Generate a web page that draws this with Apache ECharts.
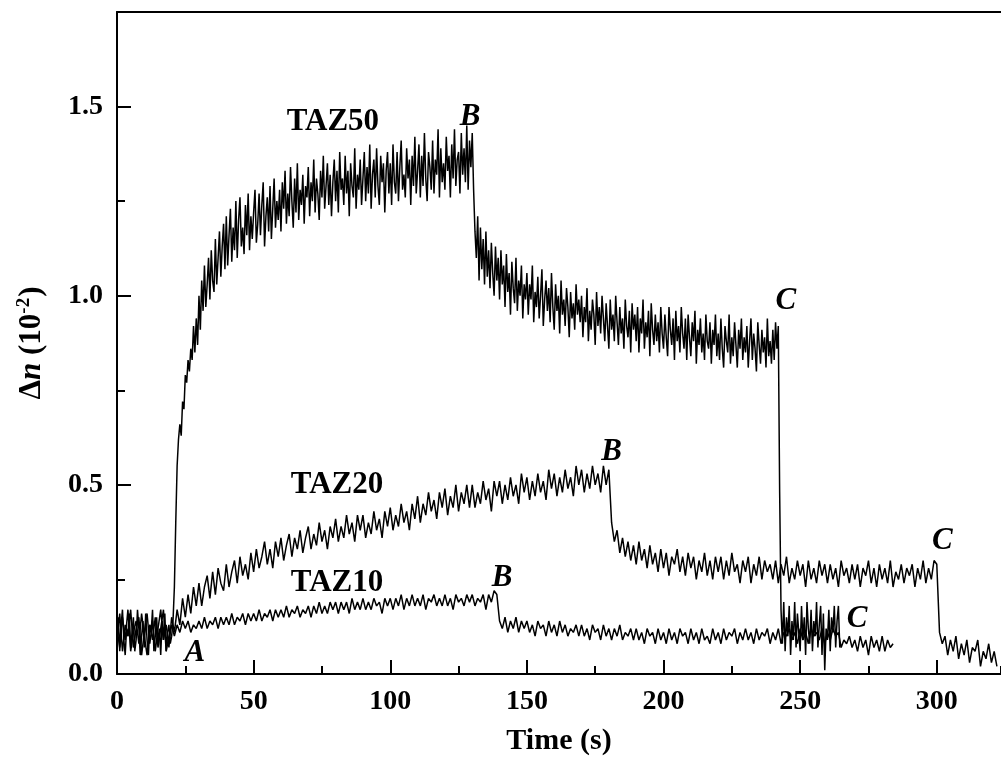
<!DOCTYPE html>
<html>
<head>
<meta charset="utf-8">
<script src="https://cdn.jsdelivr.net/npm/echarts@6/dist/echarts.min.js"></script>
<style>
  html, body { margin: 0; padding: 0; background: #fff; }
  #chart { width: 1001px; height: 765px; }
</style>
</head>
<body>
<div id="chart"></div>
<script>
// Values in units of 10^-4 (i.e. hundredths of the 10^-2 axis unit).
// Each row covers 10 s of time.
// TAZ50 sampled every 0.5 s, starting at t = 0
var taz50Rows = [
  [8,15,6,13,17,9,5,12,10,16,7,11,15,6,9,17,12,5,10,14],
  [7,16,9,5,13,11,17,6,10,15,8,12,5,14,9,16,6,11,13,8],
  [10,14,23,40,55,62,66,63,72,70,79,77,83,80,86,83,92,85,94,87],
  [100,91,104,96,108,97,103,110,99,112,104,101,115,103,110,117,105,113,119,107],
  [121,108,116,123,109,118,112,125,110,120,126,113,118,111,124,116,127,112,121,115],
  [122,128,114,119,127,116,124,130,113,121,126,117,129,115,123,131,118,125,120,128],
  [117,130,123,133,119,127,121,134,125,118,131,122,135,120,128,124,132,119,129,126],
  [134,121,130,125,136,122,131,127,120,133,126,137,123,129,135,124,132,121,130,136],
  [125,133,122,138,128,131,124,137,127,133,121,135,129,126,139,123,132,128,136,124],
  [131,138,125,134,127,140,123,132,136,126,139,129,124,137,130,135,122,133,138,127],
  [135,124,140,130,127,138,125,134,141,128,132,126,139,131,136,124,137,129,142,127],
  [133,140,126,137,129,143,131,125,138,134,128,141,127,136,132,144,126,139,130,135],
  [128,142,133,137,126,140,131,144,129,136,138,127,143,132,139,130,145,128,141,134],
  [143,128,117,110,121,104,118,107,115,103,117,105,112,102,114,106,100,113,104,110],
  [99,112,103,108,97,111,101,106,95,109,102,98,110,96,104,100,108,94,103,99],
  [106,95,103,99,108,93,101,97,105,94,100,107,92,99,104,96,102,93,106,97],
  [91,103,96,100,90,104,95,99,92,102,97,89,101,94,98,91,103,95,99,93],
  [100,89,97,93,102,88,96,91,99,95,87,101,92,97,90,100,94,88,98,92],
  [86,99,91,95,88,100,93,87,97,90,94,86,99,92,89,96,85,98,91,95],
  [88,97,85,94,90,99,86,93,89,96,84,98,91,87,95,88,93,85,97,90],
  [86,95,89,84,97,91,87,94,83,96,88,92,85,97,90,86,94,83,95,89],
  [84,93,88,96,82,91,87,94,85,90,83,95,88,86,93,82,91,87,95,84],
  [90,83,94,86,81,92,88,85,95,82,89,84,93,87,81,91,86,94,83,89],
  [85,92,81,88,94,83,90,86,80,93,87,82,91,85,89,81,94,84,88,82],
  [91,83,93,86,92,48,17,8,19,6,15,10,18,5,14,9,19,7,16,11],
  [6,18,9,15,5,19,12,8,17,6,14,10,19,7,13,18,5,16,1,12],
  [9,17,6,15,11,18,7,14,18,7]
];
// TAZ20 sampled every 1 s, starting at t = 0
var taz20Rows = [
  [9,16,6,13,10,17,7,12,15,5],
  [11,16,8,14,6,12,17,9,13,7],
  [15,11,17,13,20,15,21,16,23,18],
  [24,18,23,26,20,27,21,28,24,22],
  [29,23,27,30,24,31,26,29,25,32],
  [27,33,28,31,35,29,33,28,35,31],
  [36,30,34,37,31,36,33,38,32,36],
  [39,33,37,34,40,35,38,33,39,36],
  [41,35,39,36,42,37,40,35,42,38],
  [42,36,40,37,43,38,41,36,43,39],
  [44,38,42,39,45,40,43,38,45,41],
  [47,40,45,42,48,43,46,41,48,44],
  [49,42,47,44,50,43,48,45,50,44],
  [50,44,48,45,51,46,49,43,51,47],
  [51,45,50,46,52,47,50,45,53,48],
  [52,46,51,47,53,48,51,46,54,49],
  [53,47,52,48,54,49,52,47,55,50],
  [54,48,53,49,55,50,53,48,55,50],
  [54,40,35,38,32,36,31,35,30,34],
  [29,35,30,33,28,34,29,32,27,33],
  [28,32,26,31,29,33,27,31,26,32],
  [28,31,25,30,27,32,26,30,25,31],
  [27,31,25,30,26,32,27,29,24,30],
  [27,31,24,29,26,31,25,30,27,29],
  [25,30,24,29,26,31,24,28,25,30],
  [26,29,23,30,25,28,24,30,26,29],
  [24,29,25,28,23,30,26,28,24,29],
  [25,29,23,28,26,30,24,28,23,29],
  [25,28,24,30,23,27,25,29,24,28],
  [26,29,23,28,25,30,24,28,25,30],
  [29,11,8,10,5,9,6,10,4,8],
  [5,9,3,7,6,9,2,6,4,8],
  [3,6,2]
];
// TAZ10 sampled every 1 s, starting at t = 0
var taz10Rows = [
  [12,7,15,9,17,6,11,14,8,16],
  [10,5,13,9,15,7,12,17,6,10],
  [13,10,13,11,14,12,14,11,13,12],
  [14,12,15,12,14,13,15,12,15,13],
  [15,13,16,13,15,14,16,13,16,14],
  [16,14,17,14,16,15,17,14,17,15],
  [17,15,18,15,17,16,18,15,17,16],
  [18,15,18,16,19,16,18,16,19,17],
  [19,16,19,17,19,16,20,17,19,17],
  [20,17,19,17,20,18,19,16,20,18],
  [20,17,20,18,21,17,20,18,21,18],
  [20,18,21,17,20,19,21,18,20,18],
  [21,18,20,17,21,19,20,18,21,19],
  [21,18,20,19,21,17,21,19,22,21],
  [14,12,15,11,14,12,15,11,14,12],
  [14,11,13,10,14,12,13,10,14,11],
  [13,10,14,11,13,10,12,11,13,10],
  [13,10,12,9,13,11,12,9,13,10],
  [12,9,12,10,13,9,11,10,12,9],
  [12,9,11,8,12,10,11,8,12,9],
  [11,8,12,9,11,8,12,10,11,8],
  [12,9,11,8,12,9,10,8,12,9],
  [11,8,12,9,11,10,12,8,11,9],
  [12,9,11,8,12,9,11,10,12,8],
  [11,9,12,8,11,10,12,9,11,8],
  [12,9,11,8,12,10,11,9,12,8],
  [11,9,12,10,11,7,9,8,10,7],
  [9,6,10,7,9,5,10,7,9,6],
  [10,6,9,7,8]
];
var xTicks = [0, 50, 100, 150, 200, 250, 300];
var yTickLabels = ['0.0', '0.5', '1.0', '1.5'];

// Annotation texts and their anchor positions (data coordinates)
var annoText = ['TAZ50', 'B', 'C', 'TAZ20', 'B', 'C', 'TAZ10', 'B', 'C', 'A'];
var annoX    = [79.0, 129.2, 244.8, 80.5, 181.0, 302.0, 80.5, 140.9, 270.8, 28.5];
var annoY    = [146, 147.3, 98.7, 50, 58.7, 35.2, 24, 25.4, 14.5, 5.5];

function rowsToPoints(rows, step) {
  var pts = [];
  for (var r = 0; r < rows.length; r++) {
    for (var j = 0; j < rows[r].length; j++) {
      pts.push([r * 10 + j * step, rows[r][j]]);
    }
  }
  return pts;
}

var FONT = 'Liberation Serif';
var chart = echarts.init(document.getElementById('chart'), null, { renderer: 'canvas' });

var annoData = annoText.map(function (t, i) {
  var isTag = t.length > 1;
  return {
    name: t,
    value: [annoX[i], annoY[i]],
    label: {
      fontStyle: isTag ? 'normal' : 'italic',
      fontSize: isTag ? 31 : 31
    }
  };
});

var lineStyle = { color: '#000', width: 1.5 };

var option = {
  animation: false,
  backgroundColor: '#fff',
  grid: [
    { left: 117, right: 0, top: 12, bottom: 91 },
    { left: 117, right: 0, top: 12, bottom: 91 }
  ],
  xAxis: [
    {
      gridIndex: 0, type: 'value', min: 0, max: 323.5, interval: 50,
      position: 'bottom',
      name: 'Time (s)', nameLocation: 'middle', nameGap: 52,
      nameTextStyle: { fontFamily: FONT, fontWeight: 'bold', fontSize: 30, color: '#000' },
      axisLine: { show: true, lineStyle: { color: '#000', width: 2 } },
      axisTick: { show: true, inside: true, length: 14, lineStyle: { color: '#000', width: 2 } },
      axisLabel: {
        show: true, margin: 14, color: '#000', fontFamily: FONT, fontWeight: 'bold', fontSize: 28,
        showMaxLabel: false,
        formatter: function (v) { return xTicks.indexOf(v) >= 0 ? String(v) : ''; }
      },
      splitLine: { show: false }
    },
    {
      gridIndex: 0, type: 'value', min: 0, max: 323.5, position: 'top',
      axisLine: { show: true, onZero: false, lineStyle: { color: '#000', width: 2 } },
      axisTick: { show: false }, axisLabel: { show: false }, splitLine: { show: false }
    },
    {
      gridIndex: 1, type: 'value', min: 0, max: 323.5, interval: 25, position: 'bottom',
      axisLine: { show: false },
      axisTick: { show: true, inside: true, length: 8, lineStyle: { color: '#000', width: 2 } },
      axisLabel: { show: false }, splitLine: { show: false }
    }
  ],
  yAxis: [
    {
      gridIndex: 0, type: 'value', min: 0, max: 175, interval: 50,
      name: '{d|Δ}{n|n}{d| (10}{s|-2}{d|)}',
      nameLocation: 'middle', nameGap: 68, nameRotate: 90,
      nameTextStyle: {
        color: '#000',
        rich: {
          d: { fontFamily: FONT, fontWeight: 'bold', fontSize: 31, lineHeight: 34, color: '#000' },
          n: { fontFamily: FONT, fontWeight: 'bold', fontStyle: 'italic', fontSize: 31, lineHeight: 34, color: '#000' },
          s: { fontFamily: FONT, fontWeight: 'bold', fontSize: 19, lineHeight: 34, verticalAlign: 'top', color: '#000', padding: [0, 1, 0, 0] }
        }
      },
      axisLine: { show: true, onZero: false, lineStyle: { color: '#000', width: 2 } },
      axisTick: { show: true, inside: true, length: 14, lineStyle: { color: '#000', width: 2 } },
      axisLabel: {
        show: true, margin: 14, color: '#000', fontFamily: FONT, fontWeight: 'bold', fontSize: 28,
        showMaxLabel: false,
        formatter: function (v) { var k = Math.round(v / 50); return (v % 50 === 0 && k < yTickLabels.length) ? yTickLabels[k] : ''; }
      },
      splitLine: { show: false }
    },
    {
      gridIndex: 1, type: 'value', min: 0, max: 175, interval: 25,
      axisLine: { show: false },
      axisTick: { show: true, inside: true, length: 8, lineStyle: { color: '#000', width: 2 } },
      axisLabel: { show: false }, splitLine: { show: false }
    }
  ],
  series: [
    { name: 'TAZ50', type: 'line', xAxisIndex: 0, yAxisIndex: 0, data: rowsToPoints(taz50Rows, 0.5),
      showSymbol: false, symbol: 'none', lineStyle: lineStyle, z: 3 },
    { name: 'TAZ20', type: 'line', xAxisIndex: 0, yAxisIndex: 0, data: rowsToPoints(taz20Rows, 1),
      showSymbol: false, symbol: 'none', lineStyle: lineStyle, z: 3 },
    { name: 'TAZ10', type: 'line', xAxisIndex: 0, yAxisIndex: 0, data: rowsToPoints(taz10Rows, 1),
      showSymbol: false, symbol: 'none', lineStyle: lineStyle, z: 3 },
    { name: 'minor', type: 'line', xAxisIndex: 2, yAxisIndex: 1, data: [], showSymbol: false },
    {
      name: 'labels', type: 'scatter', xAxisIndex: 0, yAxisIndex: 0,
      symbolSize: 0, data: annoData, z: 5,
      itemStyle: { opacity: 1, color: '#000' },
      label: {
        show: true, position: 'inside', formatter: '{b}', opacity: 1,
        fontFamily: FONT, fontWeight: 'bold', color: '#000',
        align: 'center', verticalAlign: 'middle'
      }
    }
  ]
};
chart.setOption(option);
</script>
</body>
</html>
